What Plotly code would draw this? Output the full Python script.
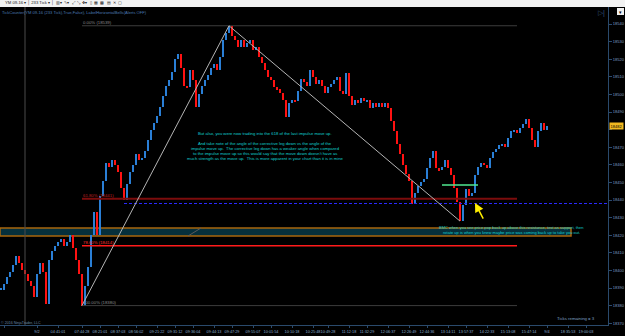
import plotly.graph_objects as go

# ---------------- data ----------------
closes = [18389, 18392, 18396, 18399, 18403, 18408, 18404, 18400, 18398, 18394,
          18391, 18385, 18398, 18404, 18399, 18381, 18406, 18411, 18414, 18416,
          18418, 18414, 18416, 18420, 18413, 18406, 18398, 18380, 18391, 18402,
          18420, 18433, 18420, 18442, 18451, 18461, 18459, 18463, 18460, 18456,
          18447, 18440, 18449, 18456, 18460, 18466, 18463, 18464, 18468, 18474,
          18480, 18484, 18488, 18493, 18499, 18505, 18508, 18513, 18520, 18523,
          18515, 18505, 18504, 18514, 18508, 18493, 18500, 18505, 18508, 18511,
          18515, 18517, 18514, 18521, 18531, 18535, 18539, 18533, 18531, 18527,
          18531, 18527, 18529, 18531, 18525, 18527, 18521, 18518, 18514, 18510,
          18508, 18504, 18503, 18501, 18497, 18487, 18495, 18497, 18496, 18502,
          18509, 18507, 18505, 18514, 18510, 18506, 18508, 18505, 18501, 18504,
          18506, 18508, 18510, 18502, 18500, 18512, 18499, 18494, 18497, 18495,
          18498, 18496, 18497, 18492, 18495, 18493, 18495, 18493, 18495, 18492,
          18485, 18479, 18472, 18466, 18460, 18455, 18451, 18438, 18444, 18448,
          18450, 18452, 18458, 18464, 18468, 18458, 18457, 18459, 18463, 18458,
          18454, 18447, 18439, 18428, 18437, 18446, 18442, 18444, 18454, 18459,
          18461, 18460, 18458, 18464, 18467, 18469, 18471, 18472, 18470, 18475,
          18479, 18480, 18478, 18481, 18483, 18486, 18481, 18474, 18470, 18479,
          18484, 18480, 18482]
bar_index = list(range(len(closes)))

x_tick_bars = [1, 12, 19, 27, 33, 39, 45, 52, 58, 64, 71, 77, 84, 90, 97, 104, 109,
               116, 122, 129, 136, 142, 149, 155, 162, 169, 176, 182, 189, 195]
x_tick_labels = ["07:00", "9/2", "04:41:01", "07:44:28", "08:21:01", "08:37:03",
                 "08:56:02", "09:21:22", "09:31:12", "09:36:04", "09:44:13",
                 "09:47:29", "09:55:07", "10:01:54", "10:10:18", "10:25:48",
                 "10:49:28", "11:12:18", "11:32:29", "12:06:37", "12:26:49",
                 "12:44:36", "13:14:11", "13:57:37", "14:22:33", "15:13:08",
                 "15:47:14", "9/4", "18:35:53", "19:00:03"]
y_tick_vals = list(range(18370, 18541, 10))

fib_ratios = [0.0, 0.618, 0.786, 1.0]
fib_colors = ["#3c3c3c", "#7c0c0c", "#ff1a1a", "#3c3c3c"]
fib_widths = [1, 2, 1.5, 1]
fib_label_colors = ["#8a8a8a", "#c02020", "#ff3030", "#8a8a8a"]
fib_end_bar = 172

session_break_bar = 8
dashed_level = 18438
dashed_start_bar = 41
green_level = 18448.5
green_bars = [147, 159]
zone_levels = [18419.5, 18424.1]
zone_end_bar = 190
arrow_tail = (161, 18428.6)
arrow_head = (158, 18438.3)

center_text = [
    "But also, you were now trading into the 618 of the last impulse move up.",
    "And take note of the angle of the corrective leg down vs the angle of the",
    "impulse move up.  The corrective leg down has a weaker angle when compared",
    "to the impulse move up so this would say that the move down doesn't have as",
    "much strength as the move up.  This is more apparent in your chart than it is in mine",
]
bmc_text = [
    "BMC when you see price pop back up above this resistance, test as support, then",
    "rotate up is when you knew maybe price was coming back up to take you out.",
]

# ---------------- geometry helpers ----------------
W, H = 625, 336
ML, MR, MT, MB = 0, 17, 7, 11
PW, PH = W - ML - MR, H - MT - MB
X0, X1 = -1 / 3, 202.33
Y0, Y1 = 18368.98, 18549.66


def px_x(px):
    return X0 + (px - ML) / PW * (X1 - X0)


def px_y(py):
    return Y1 - (py - MT) / PH * (Y1 - Y0)


opens = [closes[0]] + closes[:-1]
base = [min(o, c) for o, c in zip(opens, closes)]
height = [max(abs(c - o), 0.6) for o, c in zip(opens, closes)]
colors = ["#2a7fd6" if c >= o else "#ff1212" for o, c in zip(opens, closes)]

low_val = min(closes)
low_i = closes.index(low_val)
high_val = max(closes)
high_i = closes.index(high_val)
leg_low_val = min(closes[high_i:])
leg_low_i = high_i + closes[high_i:].index(leg_low_val)

# the price marker hides the tick label it sits on
y_tick_text = ["" if abs(v - closes[-1]) < 5 else str(v) for v in y_tick_vals]

fig = go.Figure()
fig.add_trace(go.Bar(x=bar_index, base=base, y=height, width=0.62,
                     marker=dict(color=colors, line=dict(width=0)),
                     hoverinfo="skip", showlegend=False))

shapes = []
annotations = []
FONT = "Liberation Sans"

# session break
shapes.append(dict(type="line", xref="x", yref="paper", x0=session_break_bar,
                   x1=session_break_bar, y0=0, y1=1,
                   line=dict(color="#4a4a4a", width=1)))

# zone box
shapes.append(dict(type="rect", xref="x", yref="y", x0=X0, x1=zone_end_bar,
                   y0=zone_levels[0], y1=zone_levels[1],
                   fillcolor="#06303c", line=dict(color="#a8660c", width=1.5),
                   layer="below"))
shapes.append(dict(type="line", xref="x", yref="y", x0=px_x(188), x1=px_x(201),
                   y0=px_y(236), y1=px_y(228), line=dict(color="#5a5a5a", width=1)))

# fib levels
for r, col, w, lc in zip(fib_ratios, fib_colors, fib_widths, fib_label_colors):
    lvl = high_val - r * (high_val - low_val)
    shapes.append(dict(type="line", xref="x", yref="y", x0=low_i, x1=fib_end_bar,
                       y0=lvl, y1=lvl, line=dict(color=col, width=w)))
    annotations.append(dict(x=low_i, y=lvl, xref="x", yref="y", xanchor="left",
                            yanchor="bottom", showarrow=False, borderpad=0,
                            text=f"{r*100:.2f}% ({round(lvl)})",
                            font=dict(size=4.3, color=lc, family=FONT)))

# dashed level
shapes.append(dict(type="line", xref="x", yref="y", x0=dashed_start_bar, x1=X1,
                   y0=dashed_level, y1=dashed_level,
                   line=dict(color="#2a2aff", width=1, dash="3px,2px")))

# trend legs
shapes.append(dict(type="line", xref="x", yref="y", x0=low_i, y0=low_val,
                   x1=high_i, y1=high_val, line=dict(color="#b4b4b4", width=1)))
shapes.append(dict(type="line", xref="x", yref="y", x0=high_i, y0=high_val,
                   x1=leg_low_i, y1=leg_low_val, line=dict(color="#b4b4b4", width=1)))

# green resistance line
shapes.append(dict(type="line", xref="x", yref="y", x0=green_bars[0], x1=green_bars[1],
                   y0=green_level, y1=green_level, line=dict(color="#50e890", width=1.5)))

# yellow arrow
annotations.append(dict(x=arrow_head[0], y=arrow_head[1], ax=arrow_tail[0], ay=arrow_tail[1],
                        xref="x", yref="y", axref="x", ayref="y", text="",
                        showarrow=True, arrowhead=2, arrowsize=1.2, arrowwidth=1.5,
                        arrowcolor="#ffee00"))

# center text
for txt, py in zip(center_text, [133, 143, 148, 153, 158]):
    annotations.append(dict(x=px_x(265), y=px_y(py), xref="x", yref="y",
                            xanchor="center", yanchor="middle", showarrow=False,
                            text=txt, borderpad=0,
                            font=dict(size=4.2, color="#10d0d0", family=FONT)))
for txt, py in zip(bmc_text, [227, 232]):
    annotations.append(dict(x=px_x(511), y=px_y(py), xref="x", yref="y",
                            xanchor="center", yanchor="middle", showarrow=False,
                            text=txt, borderpad=0,
                            font=dict(size=4.0, color="#10d0d0", family=FONT)))

# toolbar
shapes.append(dict(type="rect", xref="paper", yref="paper", x0=0, x1=W / PW,
                   y0=1, y1=1 + MT / PH, fillcolor="#f2f2f2", line=dict(width=0)))
annotations.append(dict(x=4 / PW, y=1 + 3.5 / PH, xref="paper", yref="paper",
                        xanchor="left", yanchor="middle", showarrow=False, borderpad=0,
                        text="YM 09-16 ▾ │ 233 Tick ▾ │  ▥▾  ✎▾  ⤢  ⤡  ✥▾  ▯  ▦  ▩  ▤  ✕  ▢",
                        font=dict(size=4.2, color="#202020", family=FONT)))

# title
annotations.append(dict(x=1 / PW, y=px_y(12), xref="paper", yref="y",
                        xanchor="left", yanchor="middle", showarrow=False, borderpad=0,
                        text="TickCounter(YM 09-16 (233 Tick),True,False), LabelHorizontalBells(Alerts OFF)",
                        font=dict(size=4.1, color="#4a7ab4", family=FONT)))

# top right icons
annotations.append(dict(x=601 / PW, y=1 - 6 / PH, xref="paper", yref="paper",
                        xanchor="center", yanchor="middle", showarrow=False, borderpad=0,
                        text="▷|", font=dict(size=7, color="#33557f", family=FONT)))
shapes.append(dict(type="rect", xref="paper", yref="paper", x0=617 / PW, x1=624 / PW,
                   y0=1 - 8 / PH, y1=1 - 1 / PH, fillcolor="#f0f0f0", line=dict(width=0)))
annotations.append(dict(x=620.5 / PW, y=1 - 4.5 / PH, xref="paper", yref="paper",
                        xanchor="center", yanchor="middle", showarrow=False, borderpad=0,
                        text="▾", font=dict(size=5, color="#000000", family=FONT)))

# current price marker
annotations.append(dict(x=1, y=closes[-1], xref="paper", yref="y", xanchor="left",
                        yanchor="middle", showarrow=False, xshift=1, borderpad=0.5,
                        text=str(closes[-1]), bgcolor="#f0b820",
                        font=dict(size=4, color="#000000", family=FONT)))

# footers
annotations.append(dict(x=576 / PW, y=px_y(318), xref="paper", yref="y",
                        xanchor="center", yanchor="middle", showarrow=False, borderpad=0,
                        text="Ticks remaining = 3",
                        font=dict(size=4.3, color="#7fa0c4", family=FONT)))
annotations.append(dict(x=0, y=px_y(322.5), xref="paper", yref="y",
                        xanchor="left", yanchor="middle", showarrow=False, borderpad=0,
                        text="© 2016 NinjaTrader, LLC",
                        font=dict(size=3.6, color="#6a88aa", family=FONT)))

fig.update_layout(
    width=W, height=H,
    margin=dict(l=ML, r=MR, t=MT, b=MB, pad=0),
    paper_bgcolor="#000000", plot_bgcolor="#000000",
    showlegend=False, hovermode=False, bargap=0,
    shapes=shapes, annotations=annotations,
    font=dict(family=FONT),
    xaxis=dict(range=[X0, X1], tickvals=x_tick_bars, ticktext=x_tick_labels,
               tickangle=0, automargin=False,
               showgrid=False, zeroline=False, showline=True, linecolor="#2a4a6c",
               linewidth=1, ticks="outside", ticklen=2, tickcolor="#2a4a6c",
               tickfont=dict(size=3.8, color="#8eaccc", family=FONT)),
    yaxis=dict(range=[Y0, Y1], side="right", tickvals=y_tick_vals, ticktext=y_tick_text,
               automargin=False,
               showgrid=False, zeroline=False, showline=True, linecolor="#2a4a6c",
               linewidth=1, ticks="outside", ticklen=3, tickcolor="#2a4a6c",
               tickfont=dict(size=4, color="#7e9ec0", family=FONT)),
)

fig.write_html("out.html")
